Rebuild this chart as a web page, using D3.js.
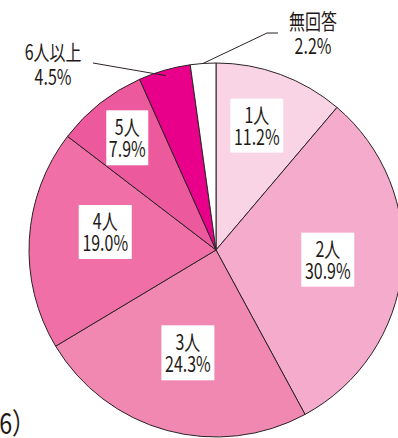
<!DOCTYPE html>
<html>
<head>
<meta charset="utf-8">
<script src="https://cdn.jsdelivr.net/npm/d3@7"></script>
<style>
  html, body { margin: 0; padding: 0; background: #fff; }
  svg { display: block; }
  text { font-family: "Noto Sans CJK JP", "Noto Sans", sans-serif; fill: #231815; }
</style>
</head>
<body>
<svg id="chart" width="398" height="438"></svg>
<script>
// Household size breakdown (%)
const categories = ["1人", "2人", "3人", "4人", "5人", "6人以上", "無回答"];
const values = [11.2, 30.9, 24.3, 19.0, 7.9, 4.5, 2.2];
const colors = ["#f9d4e4", "#f4abcc", "#f088b2", "#ef6fa6", "#ec599d", "#e8008b", "#ffffff"];

const svg = d3.select("#chart");
const cx = 216, cy = 250, R = 187;

const pie = d3.pie().sort(null).value(d => d.value);
const arcs = pie(categories.map((c, i) => ({ cat: c, value: values[i], color: colors[i] })));
const arc = d3.arc().innerRadius(0).outerRadius(R);

const g = svg.append("g").attr("transform", `translate(${cx},${cy})`);

g.selectAll("path.slice")
  .data(arcs)
  .join("path")
  .attr("class", "slice")
  .attr("d", arc)
  .attr("fill", d => d.data.color)
  .attr("stroke", "#2b2325")
  .attr("stroke-width", 1)
  .attr("stroke-linejoin", "round");

const fs = 21, sx = 0.76;
const pct = v => d3.format(".1f")(v) + "%";

// two-line label: category name over percentage
function twoLine(parent, a, y1, gap) {
  const t = parent.append("text")
    .attr("transform", `scale(${sx},1)`)
    .attr("text-anchor", "middle")
    .attr("font-size", fs);
  t.append("tspan").attr("x", 0).attr("y", y1).text(a.data.cat);
  t.append("tspan").attr("x", 0).attr("y", y1 + gap).text(pct(a.data.value));
}

// Inside labels: white boxes placed along each slice's mid-angle
const inside = [
  { i: 0, r: 0.70, da: -2, w: 53, h: 54 },
  { i: 1, r: 0.60, da: -1, w: 53, h: 54 },
  { i: 2, r: 0.57, da: 0, w: 53, h: 55 },
  { i: 3, r: 0.60, da: 6, w: 53, h: 54 },
  { i: 4, r: 0.765, da: 0, w: 42, h: 55 }
];

inside.forEach(o => {
  const a = arcs[o.i];
  const mid = (a.startAngle + a.endAngle) / 2 + o.da * Math.PI / 180;
  const x = Math.sin(mid) * R * o.r;
  const y = -Math.cos(mid) * R * o.r;
  const lg = g.append("g").attr("transform", `translate(${x},${y})`);
  lg.append("rect")
    .attr("x", -o.w / 2).attr("y", -o.h / 2)
    .attr("width", o.w).attr("height", o.h)
    .attr("fill", "#fff");
  twoLine(lg, a, -3, 22);
});

// leader line endpoints sit on the rim at each slice's mid-angle
function rim(i, k) {
  const a = arcs[i];
  const mid = (a.startAngle + a.endAngle) / 2;
  return [cx + Math.sin(mid) * R * k, cy - Math.cos(mid) * R * k];
}

// Outside labels with leader lines
function outsideLabel(i, tx, ty, linePts) {
  svg.append("polyline")
    .attr("points", linePts.map(p => p.join(",")).join(" "))
    .attr("fill", "none")
    .attr("stroke", "#2b2325")
    .attr("stroke-width", 1);
  const t = svg.append("g").attr("transform", `translate(${tx},${ty})`);
  twoLine(t, arcs[i], 0, 25);
}

outsideLabel(5, 53, 60, [[93, 63], rim(5, 0.97)]);
outsideLabel(6, 313, 29, [[278, 33], [267, 33], rim(6, 1.0)]);

// trailing fragment of the sample-size note
svg.append("text")
  .attr("x", -1).attr("y", 434)
  .attr("transform", `scale(0.8,1)`)
  .attr("font-size", 29)
  .text("6）");
</script>
</body>
</html>
